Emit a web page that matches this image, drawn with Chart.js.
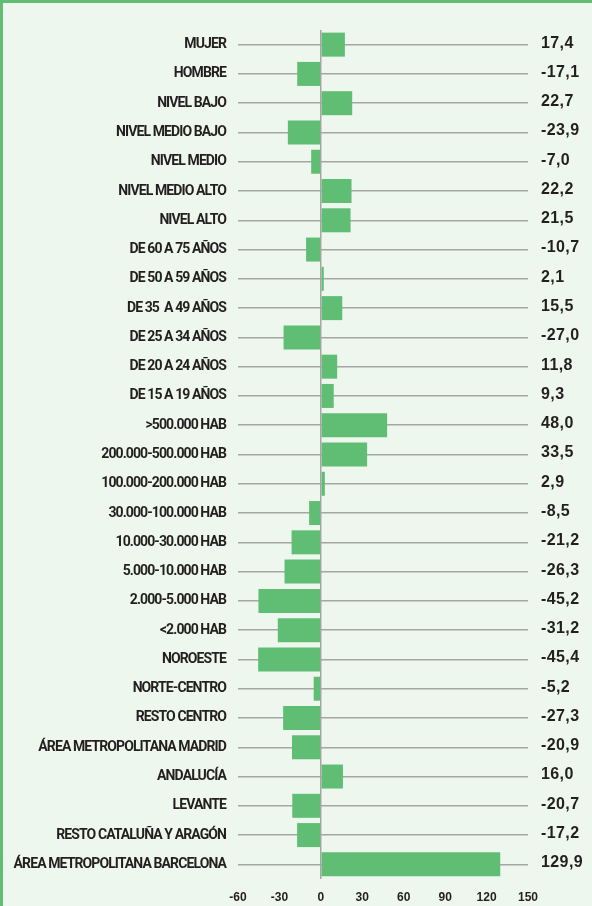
<!DOCTYPE html>
<html>
<head>
<meta charset="utf-8">
<script src="https://cdn.jsdelivr.net/npm/chart.js@4/dist/chart.umd.min.js"></script>
<style>
  html, body { margin: 0; padding: 0; }
  body { width: 592px; height: 906px; position: relative; overflow: hidden; background: #eef7ee; }
  #frame { position: absolute; left: 0; top: 0; width: 592px; height: 906px; box-sizing: border-box;
           border-top: 3px solid #5fbe74; border-left: 3px solid #5fbe74; }
  #wrap { position: absolute; left: 0; top: 0; width: 592px; height: 906px; }
</style>
</head>
<body>
<div id="frame"></div>
<div id="wrap"><canvas id="c" width="592" height="906"></canvas></div>
<script>
const categories = [
  "MUJER", "HOMBRE", "NIVEL BAJO", "NIVEL MEDIO BAJO", "NIVEL MEDIO", "NIVEL MEDIO ALTO", "NIVEL ALTO",
  "DE 60 A 75 AÑOS", "DE 50 A 59 AÑOS", "DE 35  A 49 AÑOS", "DE 25 A 34 AÑOS", "DE 20 A 24 AÑOS", "DE 15 A 19 AÑOS",
  ">500.000 HAB", "200.000-500.000 HAB", "100.000-200.000 HAB", "30.000-100.000 HAB", "10.000-30.000 HAB",
  "5.000-10.000 HAB", "2.000-5.000 HAB", "<2.000 HAB", "NOROESTE", "NORTE-CENTRO", "RESTO CENTRO",
  "ÁREA METROPOLITANA MADRID", "ANDALUCÍA", "LEVANTE", "RESTO CATALUÑA Y ARAGÓN", "ÁREA METROPOLITANA BARCELONA"
];
const values = [
  17.4, -17.1, 22.7, -23.9, -7.0, 22.2, 21.5,
  -10.7, 2.1, 15.5, -27.0, 11.8, 9.3,
  48.0, 33.5, 2.9, -8.5, -21.2,
  -26.3, -45.2, -31.2, -45.4, -5.2, -27.3,
  -20.9, 16.0, -20.7, -17.2, 129.9
];
const xTicks = [-60, -30, 0, 30, 60, 90, 120, 150];
const valueLabels = values.map(v => v.toFixed(1).replace('.', ','));

const textColor = '#231f20';
const gridColor = '#a6a6a6';

function withSpacing(scale, spacing) {
  if (scale._spacingWrapped) return;
  const orig = scale.drawLabels.bind(scale);
  scale.drawLabels = function (chartArea) {
    const ctx = this.ctx;
    ctx.save();
    ctx.letterSpacing = spacing;
    orig(chartArea);
    ctx.restore();
  };
  scale._spacingWrapped = true;
}

new Chart(document.getElementById('c'), {
  type: 'bar',
  data: {
    labels: categories,
    datasets: [{
      data: values,
      backgroundColor: '#5fbe74',
      borderWidth: 0,
      barPercentage: 0.82,
      categoryPercentage: 1.0,
      yAxisID: 'y'
    }]
  },
  options: {
    indexAxis: 'y',
    responsive: false,
    animation: false,
    layout: { padding: { top: 30, left: 0, right: 0, bottom: 0 } },
    plugins: { legend: { display: false }, tooltip: { enabled: false } },
    scales: {
      x: {
        type: 'linear',
        min: -60, max: 150,
        afterBuildTicks: s => { s.ticks = xTicks.map(v => ({ value: v })); },
        afterFit: s => { s.height = 27; },
        border: { display: false },
        grid: {
          drawTicks: false,
          color: ctx => (ctx.tick && ctx.tick.value === 0) ? gridColor : 'rgba(0,0,0,0)',
          lineWidth: 1.5
        },
        ticks: {
          padding: 11,
          color: textColor,
          font: { family: "'Liberation Sans', Arial, sans-serif", weight: 'bold', size: 12 }
        }
      },
      y: {
        type: 'category',
        position: 'left',
        afterFit: s => { s.width = 238; withSpacing(s, '-0.9px'); },
        border: { display: false },
        grid: { offset: false, drawTicks: false, color: gridColor, lineWidth: 1.5 },
        ticks: {
          autoSkip: false,
          padding: 12,
          color: textColor,
          font: { family: "Roboto, 'Liberation Sans', sans-serif", weight: 'bold', size: 14 }
        }
      },
      y2: {
        type: 'category',
        position: 'right',
        labels: valueLabels,
        offset: true,
        afterFit: s => { s.width = 64; withSpacing(s, '0.4px'); },
        border: { display: false },
        grid: { display: false, drawTicks: false },
        ticks: {
          autoSkip: false,
          padding: 13,
          labelOffset: -1.5,
          color: textColor,
          font: { family: "'Liberation Sans', Arial, sans-serif", weight: 'bold', size: 16 }
        }
      }
    }
  }
});
</script>
</body>
</html>
